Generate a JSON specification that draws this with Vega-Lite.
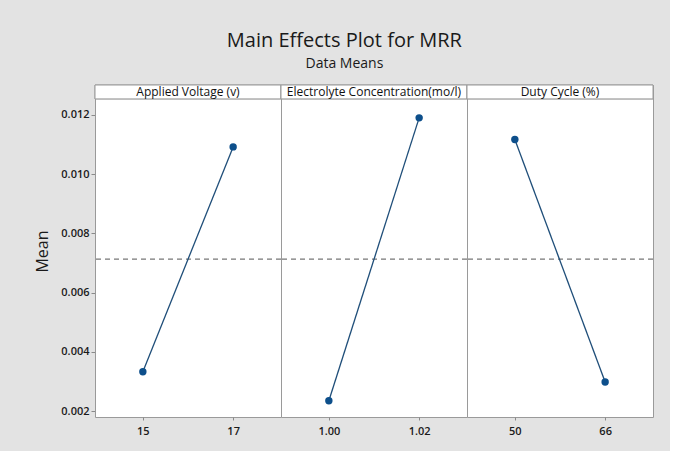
{
  "$schema": "https://vega.github.io/schema/vega-lite/v6.json",
  "background": "#e3e3e3",
  "padding": {"left": 34, "top": 31, "right": 16, "bottom": 14},
  "bounds": "flush",
  "title": {
    "text": "Main Effects Plot for MRR",
    "subtitle": "Data Means",
    "fontSize": 20,
    "fontWeight": "normal",
    "subtitleFontSize": 14,
    "subtitlePadding": 6,
    "font": "Open Sans",
    "subtitleFont": "Open Sans",
    "color": "#1a1a1a",
    "subtitleColor": "#1a1a1a",
    "anchor": "middle",
    "frame": "bounds",
    "offset": 13
  },
  "data": {
    "values": [
      {"factor": "Applied Voltage (v)", "level": "15", "mean": 0.00333},
      {"factor": "Applied Voltage (v)", "level": "17", "mean": 0.01092},
      {"factor": "Electrolyte Concentration(mo/l)", "level": "1.00", "mean": 0.00235},
      {"factor": "Electrolyte Concentration(mo/l)", "level": "1.02", "mean": 0.01190},
      {"factor": "Duty Cycle (%)", "level": "50", "mean": 0.01117},
      {"factor": "Duty Cycle (%)", "level": "66", "mean": 0.00298}
    ]
  },
  "facet": {
    "column": {
      "field": "factor",
      "type": "nominal",
      "sort": ["Applied Voltage (v)", "Electrolyte Concentration(mo/l)", "Duty Cycle (%)"],
      "header": {"title": null, "labels": false}
    }
  },
  "spacing": 0,
  "resolve": {"scale": {"x": "independent"}, "axis": {"x": "independent"}},
  "spec": {
    "width": 186,
    "height": 332,
    "layer": [
      {
        "mark": {"type": "rect", "fill": "white", "stroke": "#9a9a9a", "strokeWidth": 1},
        "encoding": {
          "y": {"datum": 0.01254, "type": "quantitative", "scale": {"domain": [0.0018, 0.01301], "nice": false, "zero": false}},
          "y2": {"datum": 0.01301}
        }
      },
      {
        "transform": [{"aggregate": [{"op": "count", "as": "n"}], "groupby": ["factor"]}],
        "mark": {"type": "text", "font": "Open Sans", "fontSize": 12, "color": "#111111", "baseline": "middle", "dy": 0},
        "encoding": {
          "y": {"datum": 0.012775, "type": "quantitative"},
          "text": {"field": "factor", "type": "nominal"}
        }
      },
      {
        "mark": {"type": "rule", "color": "#8a8a8a", "strokeDash": [5, 4], "strokeWidth": 1},
        "encoding": {"y": {"datum": 0.00713, "type": "quantitative"}}
      },
      {
        "mark": {"type": "line", "color": "#1f4e79", "strokeWidth": 1.3},
        "encoding": {
          "x": {"field": "level", "type": "ordinal", "scale": {"type": "point", "padding": 0.53}},
          "y": {"field": "mean", "type": "quantitative"}
        }
      },
      {
        "mark": {"type": "point", "filled": true, "opacity": 1, "size": 55, "color": "#0d4f8b"},
        "encoding": {
          "x": {"field": "level", "type": "ordinal"},
          "y": {"field": "mean", "type": "quantitative",
            "axis": {
              "title": "Mean",
              "values": [0.002, 0.004, 0.006, 0.008, 0.010, 0.012],
              "format": ".3f",
              "grid": false,
              "domain": false,
              "tickColor": "#8a8a8a",
              "tickSize": 4,
              "labelPadding": 2,
              "labelFont": "Open Sans",
              "labelFontSize": 11,
              "labelFontWeight": 600,
              "labelColor": "#1a1a1a",
              "titleFont": "Open Sans",
              "titleFontSize": 16,
              "titleFontWeight": "normal",
              "titleColor": "#1a1a1a",
              "titlePadding": 10
            }
          }
        }
      }
    ]
  },
  "config": {
    "view": {"fill": "white", "stroke": "#9a9a9a", "strokeWidth": 1},
    "axisX": {
      "title": null,
      "labelAngle": 0,
      "domain": false,
      "grid": false,
      "tickColor": "#8a8a8a",
      "tickSize": 3,
      "labelPadding": 5,
      "labelFont": "Open Sans",
      "labelFontSize": 11,
      "labelFontWeight": 600,
      "labelColor": "#1a1a1a"
    }
  }
}
